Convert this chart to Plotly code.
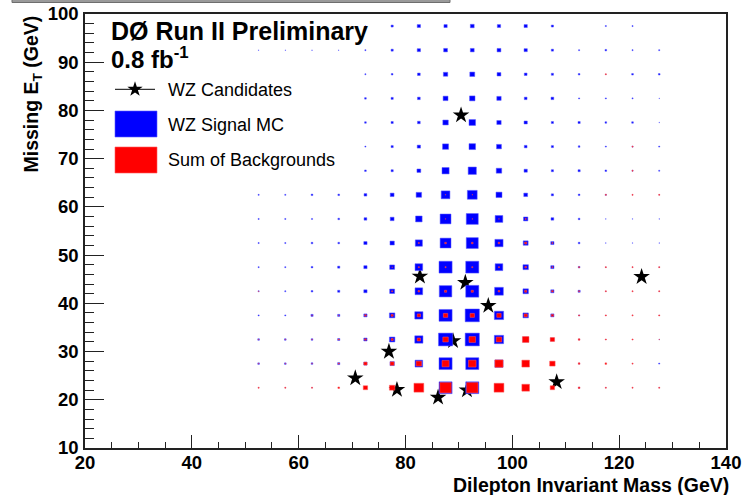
import plotly.graph_objects as go

# ---- binning of the two box histograms (GeV) ----
BIN = 5.0
mass_bins = [52.5, 57.5, 62.5, 67.5, 72.5, 77.5, 82.5, 87.5,
             92.5, 97.5, 102.5, 107.5, 112.5, 117.5, 122.5, 127.5]
met_bins = [22.5, 27.5, 32.5, 37.5, 42.5, 47.5, 52.5, 57.5,
            62.5, 67.5, 72.5, 77.5, 82.5, 87.5, 92.5, 97.5]

# ---- WZ signal MC, expected events per bin (rows follow met_bins) ----
wz_signal = [
    [0.05, 0.05, 0.05, 0.05, 0.10, 0.20, 0.60, 1.20, 1.20, 0.70, 0.40, 0.20, 0.10, 0.05, 0.05, 0.05],
    [0.15, 0.15, 0.15, 0.20, 0.30, 0.40, 0.70, 1.20, 1.20, 0.75, 0.45, 0.25, 0.10, 0.05, 0.05, 0.10],
    [0.15, 0.15, 0.15, 0.20, 0.30, 0.50, 0.75, 1.30, 1.30, 0.85, 0.50, 0.30, 0.10, 0.05, 0.05, 0.05],
    [0.10, 0.10, 0.20, 0.20, 0.30, 0.50, 0.75, 1.20, 1.30, 0.85, 0.50, 0.30, 0.10, 0.05, 0.05, 0.05],
    [0.10, 0.10, 0.15, 0.20, 0.30, 0.45, 0.70, 1.15, 1.20, 0.80, 0.50, 0.30, 0.20, 0.05, 0.05, 0.05],
    [0.10, 0.10, 0.15, 0.20, 0.30, 0.45, 0.70, 1.20, 1.20, 0.70, 0.50, 0.30, 0.15, 0.05, 0.05, 0.05],
    [0.10, 0.10, 0.15, 0.15, 0.30, 0.40, 0.65, 1.00, 1.10, 0.75, 0.45, 0.30, 0.15, 0.05, 0.05, 0.05],
    [0.10, 0.10, 0.10, 0.15, 0.25, 0.35, 0.60, 1.00, 1.10, 0.70, 0.40, 0.25, 0.15, 0.05, 0.05, 0.05],
    [0.10, 0.10, 0.15, 0.15, 0.25, 0.35, 0.50, 0.80, 0.90, 0.55, 0.35, 0.20, 0.15, 0.10, 0.05, 0.05],
    [0.00, 0.00, 0.00, 0.00, 0.15, 0.20, 0.35, 0.65, 0.75, 0.50, 0.30, 0.20, 0.20, 0.15, 0.10, 0.10],
    [0.00, 0.00, 0.00, 0.00, 0.10, 0.20, 0.30, 0.55, 0.60, 0.45, 0.25, 0.20, 0.15, 0.10, 0.10, 0.10],
    [0.00, 0.00, 0.00, 0.00, 0.15, 0.20, 0.25, 0.50, 0.60, 0.40, 0.30, 0.20, 0.20, 0.15, 0.15, 0.05],
    [0.00, 0.00, 0.00, 0.00, 0.15, 0.20, 0.25, 0.45, 0.50, 0.40, 0.25, 0.25, 0.10, 0.10, 0.10, 0.05],
    [0.00, 0.00, 0.00, 0.00, 0.10, 0.15, 0.25, 0.40, 0.45, 0.35, 0.25, 0.20, 0.15, 0.05, 0.15, 0.15],
    [0.05, 0.05, 0.05, 0.05, 0.10, 0.20, 0.30, 0.35, 0.35, 0.35, 0.30, 0.20, 0.10, 0.15, 0.10, 0.10],
    [0.00, 0.00, 0.00, 0.00, 0.05, 0.20, 0.30, 0.30, 0.35, 0.30, 0.30, 0.20, 0.00, 0.10, 0.10, 0.00],
]

# ---- sum of backgrounds, expected events per bin ----
backgrounds = [
    [0.10, 0.10, 0.10, 0.15, 0.40, 0.50, 0.90, 1.05, 1.05, 0.90, 0.70, 0.40, 0.15, 0.10, 0.10, 0.10],
    [0.05, 0.05, 0.05, 0.10, 0.30, 0.35, 0.50, 0.65, 0.70, 0.75, 0.70, 0.50, 0.15, 0.15, 0.10, 0.00],
    [0.05, 0.05, 0.05, 0.10, 0.15, 0.20, 0.30, 0.50, 0.60, 0.50, 0.60, 0.40, 0.15, 0.10, 0.10, 0.05],
    [0.00, 0.00, 0.05, 0.05, 0.15, 0.20, 0.30, 0.40, 0.40, 0.40, 0.30, 0.20, 0.10, 0.10, 0.10, 0.10],
    [0.05, 0.00, 0.00, 0.00, 0.00, 0.10, 0.15, 0.20, 0.20, 0.15, 0.20, 0.15, 0.10, 0.10, 0.10, 0.10],
    [0.00, 0.00, 0.00, 0.00, 0.00, 0.05, 0.10, 0.10, 0.10, 0.10, 0.15, 0.10, 0.10, 0.10, 0.10, 0.10],
    [0.00, 0.00, 0.00, 0.00, 0.00, 0.00, 0.10, 0.15, 0.15, 0.15, 0.20, 0.10, 0.00, 0.00, 0.00, 0.00],
    [0.00, 0.00, 0.00, 0.00, 0.00, 0.00, 0.00, 0.05, 0.05, 0.05, 0.10, 0.00, 0.00, 0.00, 0.00, 0.00],
    [0.00, 0.00, 0.00, 0.00, 0.00, 0.00, 0.00, 0.05, 0.05, 0.00, 0.00, 0.00, 0.00, 0.10, 0.10, 0.10],
    [0.00, 0.00, 0.00, 0.00, 0.00, 0.00, 0.00, 0.00, 0.00, 0.00, 0.00, 0.00, 0.00, 0.00, 0.10, 0.00],
    [0.00, 0.00, 0.00, 0.00, 0.00, 0.00, 0.00, 0.00, 0.00, 0.00, 0.00, 0.00, 0.00, 0.00, 0.10, 0.00],
    [0.00] * 16,
    [0.00] * 16,
    [0.00, 0.00, 0.00, 0.00, 0.00, 0.00, 0.00, 0.00, 0.00, 0.00, 0.00, 0.00, 0.00, 0.10, 0.00, 0.00],
    [0.00] * 16,
    [0.00] * 16,
]

# ---- observed WZ candidate events ----
cand_mass = [90.4, 82.7, 91.2, 95.5, 88.9, 76.9, 70.6, 78.4, 86.1, 91.5, 108.3, 124.2]
cand_met = [79.0, 45.6, 44.3, 39.5, 32.2, 30.0, 24.5, 22.1, 20.5, 22.0, 23.7, 45.5]

# content that would fill a whole bin with its box
Z_FULL = 2.45

FONT = "Liberation Sans, Arial, Helvetica, sans-serif"
W, H = 743, 495
ML, MR, MT, MB = 85, 17, 14, 47
PW, PH = W - ML - MR, H - MT - MB


def px_x(p):
    return (p - ML) / PW


def px_y(p):
    return (H - MB - p) / PH


def box_shapes(grid, fill, edge):
    shapes = []
    for j, yc in enumerate(met_bins):
        for i, xc in enumerate(mass_bins):
            z = grid[j][i]
            if z <= 0:
                continue
            half = 0.5 * BIN * z / Z_FULL
            shapes.append(dict(type="rect", xref="x", yref="y", layer="above",
                               x0=xc - half, x1=xc + half, y0=yc - half, y1=yc + half,
                               fillcolor=fill, line=dict(color=edge, width=1)))
    return shapes


fig = go.Figure()

# candidate events
fig.add_trace(go.Scatter(x=cand_mass, y=cand_met, mode="markers", showlegend=False,
                         marker=dict(symbol="star", size=12.5, color="black",
                                     line=dict(width=0))))

# legend sample for the candidates, on an overlay axis spanning the plot area
lx0, lx1, ly = px_x(115), px_x(155), px_y(89.3)
fig.add_trace(go.Scatter(x=[lx0, lx1], y=[ly, ly], mode="lines", xaxis="x2", yaxis="y2",
                         line=dict(color="black", width=1), showlegend=False,
                         hoverinfo="skip"))
fig.add_trace(go.Scatter(x=[(lx0 + lx1) / 2], y=[ly], mode="markers", xaxis="x2", yaxis="y2",
                         marker=dict(symbol="star", size=11.5, color="black"),
                         showlegend=False, hoverinfo="skip"))

shapes = []
shapes += box_shapes(wz_signal, "#0000ff", "rgba(90,90,255,0.5)")
shapes += box_shapes(backgrounds, "#ff0000", "rgba(255,90,90,0.5)")

# legend boxes
shapes.append(dict(type="rect", xref="paper", yref="paper",
                   x0=px_x(115), x1=px_x(157), y0=px_y(137), y1=px_y(111),
                   fillcolor="#0000ff", line=dict(color="rgba(90,90,255,0.6)", width=1)))
shapes.append(dict(type="rect", xref="paper", yref="paper",
                   x0=px_x(115), x1=px_x(157), y0=px_y(173), y1=px_y(147),
                   fillcolor="#ff0000", line=dict(color="rgba(255,90,90,0.6)", width=1)))

# remnant pave edge at the top of the canvas
shapes.append(dict(type="rect", xref="paper", yref="paper",
                   x0=px_x(12), x1=px_x(450), y0=px_y(2.5), y1=px_y(-2),
                   fillcolor="#9a9a9a", line=dict(color="#6e6e6e", width=1)))

annotations = [
    dict(text="DØ Run II Preliminary", x=px_x(109), y=px_y(31), xref="paper", yref="paper",
         xanchor="left", yanchor="middle", showarrow=False,
         font=dict(family=FONT, size=25, color="black", weight="bold")),
    dict(text="0.8 fb<sup>-1</sup>", x=px_x(109), y=px_y(75), xref="paper", yref="paper",
         xanchor="left", yanchor="bottom", showarrow=False,
         font=dict(family=FONT, size=24, color="black", weight="bold")),
    dict(text="WZ Candidates", x=px_x(166), y=px_y(90), xref="paper", yref="paper",
         xanchor="left", yanchor="middle", showarrow=False,
         font=dict(family=FONT, size=18, color="black")),
    dict(text="WZ Signal MC", x=px_x(166), y=px_y(125), xref="paper", yref="paper",
         xanchor="left", yanchor="middle", showarrow=False,
         font=dict(family=FONT, size=18, color="black")),
    dict(text="Sum of Backgrounds", x=px_x(166), y=px_y(160), xref="paper", yref="paper",
         xanchor="left", yanchor="middle", showarrow=False,
         font=dict(family=FONT, size=18, color="black")),
    dict(text="Dilepton Invariant Mass (GeV)", x=px_x(731), y=px_y(485), xref="paper",
         yref="paper", xanchor="right", yanchor="middle", showarrow=False,
         font=dict(family=FONT, size=19.5, color="black", weight="bold")),
    dict(text="Missing E<sub>T</sub> (GeV)", x=px_x(32), y=px_y(14), xref="paper",
         yref="paper", xanchor="center", yanchor="top", textangle=-90, showarrow=False,
         font=dict(family=FONT, size=19.5, color="black", weight="bold")),
]

tickfont = dict(family=FONT, size=18.5, color="black", weight="bold")

fig.update_layout(
    width=W, height=H,
    margin=dict(l=ML, r=MR, t=MT, b=MB, autoexpand=False),
    paper_bgcolor="white", plot_bgcolor="white",
    showlegend=False,
    shapes=shapes,
    annotations=annotations,
    xaxis=dict(range=[20, 140], tick0=20, dtick=20, ticks="inside", ticklen=13,
               tickwidth=1, tickcolor="#222", showline=True, linecolor="#222",
               linewidth=1.5, mirror=True, showgrid=False, zeroline=False,
               automargin=False, tickfont=tickfont, ticklabelstandoff=-3,
               minor=dict(tick0=20, dtick=5, ticks="inside", ticklen=6.5,
                          tickcolor="#222", tickwidth=1, showgrid=False)),
    yaxis=dict(range=[10, 100], tick0=10, dtick=10, ticks="inside", ticklen=19,
               tickwidth=1, tickcolor="#222", showline=True, linecolor="#222",
               linewidth=1.5, mirror=True, showgrid=False, zeroline=False,
               automargin=False, tickfont=tickfont, ticklabelstandoff=1,
               minor=dict(tick0=10, dtick=2, ticks="inside", ticklen=9.5,
                          tickcolor="#222", tickwidth=1, showgrid=False)),
    xaxis2=dict(overlaying="x", range=[0, 1], visible=False),
    yaxis2=dict(overlaying="y", range=[0, 1], visible=False),
)

fig.write_html("out.html")
